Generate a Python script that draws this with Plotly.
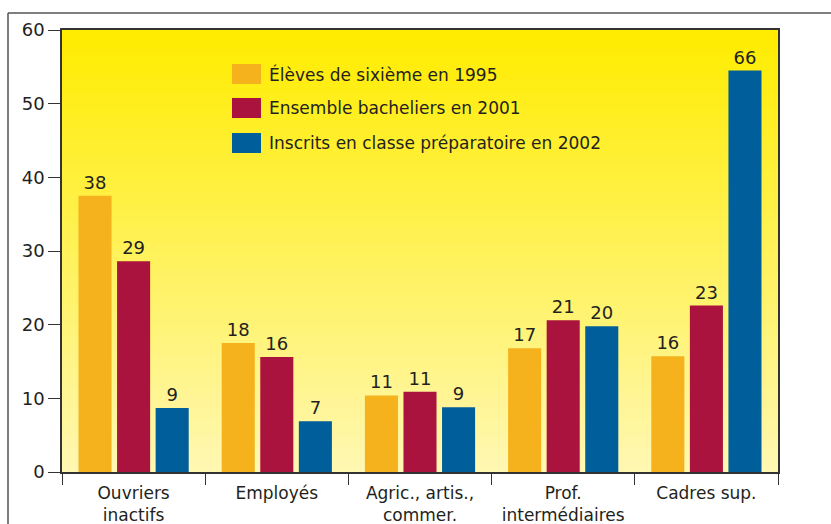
import plotly.graph_objects as go

# ---- data ----
categories = ["Ouvriers<br>inactifs", "Employés", "Agric., artis.,<br>commer.",
              "Prof.<br>intermédiaires", "Cadres sup."]
series_names = ["Élèves de sixième en 1995",
                "Ensemble bacheliers en 2001",
                "Inscrits en classe préparatoire en 2002"]
eleves_1995 = [37.5, 17.5, 10.4, 16.8, 15.7]
bacheliers_2001 = [28.6, 15.6, 10.9, 20.6, 22.6]
prepa_2002 = [8.7, 6.9, 8.8, 19.8, 54.5]
eleves_labels = ["38", "18", "11", "17", "16"]
bacheliers_labels = ["29", "16", "11", "21", "23"]
prepa_labels = ["9", "7", "9", "20", "66"]
y_ticks = [0, 10, 20, 30, 40, 50, 60]

colors = ["#F5B21D", "#AA133D", "#005E9A"]
text_col = "#231F20"
font_family = "DejaVu Sans"

values = [eleves_1995, bacheliers_2001, prepa_2002]
labels = [eleves_labels, bacheliers_labels, prepa_labels]

fig = go.Figure()
for name, vals, labs, col in zip(series_names, values, labels, colors):
    fig.add_trace(go.Bar(
        x=categories, y=vals, name=name, text=labs,
        textposition="outside", cliponaxis=False,
        textfont=dict(family=font_family, size=18, color=text_col),
        marker=dict(color=col, line=dict(width=0)),
        showlegend=False,
    ))

shapes = []
# vertical gradient background in plot area
N = 90
top = (255, 236, 0)
bot = (255, 247, 178)
for i in range(N):
    t = i / (N - 1)  # 0 at bottom, 1 at top
    r = round(bot[0] + (top[0] - bot[0]) * t)
    g = round(bot[1] + (top[1] - bot[1]) * t)
    b = round(bot[2] + (top[2] - bot[2]) * t)
    shapes.append(dict(type="rect", xref="x domain", yref="y domain",
                       x0=0, x1=1, y0=i / N, y1=min(1, (i + 1.6) / N),
                       fillcolor=f"rgb({r},{g},{b})", line=dict(width=0),
                       layer="below"))

# outer frame (left and top lines)
W_plot = 831 - 62 - 53
H_plot = 524 - 30 - 52
def px(xp):
    return (xp - 62) / W_plot
def py(yp):
    return (472 - yp) / H_plot

frame_col = "#555555"
shapes.append(dict(type="line", xref="paper", yref="paper",
                   x0=px(8), x1=px(840), y0=py(13), y1=py(13),
                   line=dict(color=frame_col, width=1.5)))
shapes.append(dict(type="line", xref="paper", yref="paper",
                   x0=px(8), x1=px(8), y0=py(13), y1=py(530),
                   line=dict(color=frame_col, width=1.5)))

# manual legend
annotations = []
legend_rows = [74, 108, 143]
for name, col, yc in zip(series_names, colors, legend_rows):
    shapes.append(dict(type="rect", xref="paper", yref="paper",
                       x0=px(232), x1=px(261), y0=py(yc - 10), y1=py(yc + 10),
                       fillcolor=col, line=dict(width=0)))
    annotations.append(dict(xref="paper", yref="paper", x=px(267), y=py(yc),
                            text=name, showarrow=False, xanchor="left",
                            yanchor="middle",
                            font=dict(family=font_family, size=17, color=text_col)))

fig.update_layout(
    width=831, height=524, autosize=False,
    margin=dict(l=62, r=53, t=30, b=52),
    paper_bgcolor="white", plot_bgcolor="#FFF4A0",
    barmode="group", bargap=0.192, bargroupgap=0.143,
    shapes=shapes, annotations=annotations,
    font=dict(family=font_family, color=text_col),
    xaxis=dict(showline=True, linecolor="#333333", linewidth=1.5, mirror=True,
               ticks="outside", tickson="boundaries", ticklen=11,
               tickcolor="#333333", tickwidth=1.2, automargin=False,
               ticklabelstandoff=5,
               tickfont=dict(family=font_family, size=17, color=text_col),
               showgrid=False, zeroline=False),
    yaxis=dict(range=[0, 60], tickvals=y_ticks, showline=True,
               linecolor="#333333", linewidth=1.5, mirror=True, automargin=False,
               ticks="outside", ticklen=12, tickcolor="#333333", tickwidth=1.2,
               tickfont=dict(family=font_family, size=18, color=text_col),
               showgrid=False, zeroline=False),
)

fig.write_html("out.html", config={"displayModeBar": False},
               post_script="document.body.style.margin='0px';")
